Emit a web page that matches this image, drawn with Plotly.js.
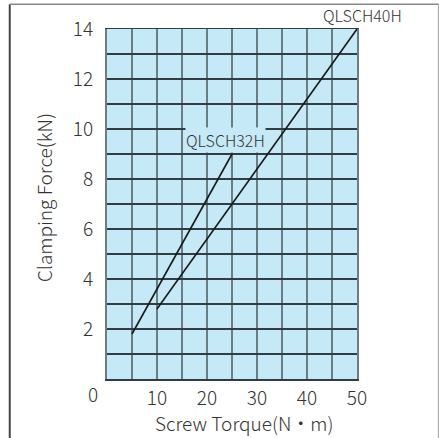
<!DOCTYPE html>
<html>
<head>
<meta charset="utf-8">
<script src="https://cdn.plot.ly/plotly-3.0.1.min.js"></script>
<style>
html,body{margin:0;padding:0;background:#fff;}
#chart{width:439px;height:438px;}
</style>
</head>
<body>
<div id="chart"></div>
<script>
// Data
const seriesNames = ["QLSCH32H", "QLSCH40H"];
const torque32 = [5, 25];
const force32 = [1.8, 9];
const torque40 = [10, 50];
const force40 = [2.8, 14];
const xTickVals = [0, 5, 10, 15, 20, 25, 30, 35, 40, 45, 50];
const xTickText = ["", "", "10", "", "20", "", "30", "", "40", "", "50"];
const yTickVals = [0, 1, 2, 3, 4, 5, 6, 7, 8, 9, 10, 11, 12, 13, 14];
const yTickText = ["", "", "2", "", "4", "", "6", "", "8", "", "10", "", "12", "", "14"];
const originLabel = "0";
const xTitle = "Screw Torque(N・m)";
const yTitle = "Clamping Force(kN)";

const FONT = "'Noto Sans CJK JP', 'Noto Sans', sans-serif";
const TXT = "#333";
const FS = 19;
const LFS = 16;

const traces = [
  {x: torque32, y: force32, mode: "lines", name: seriesNames[0],
   line: {color: "#1a1a1a", width: 1.6}, hoverinfo: "skip"},
  {x: torque40, y: force40, mode: "lines", name: seriesNames[1],
   line: {color: "#1a1a1a", width: 1.6}, hoverinfo: "skip"}
];

const layout = {
  width: 439, height: 438,
  margin: {l: 107, r: 82, t: 29, b: 59},
  paper_bgcolor: "#fff",
  plot_bgcolor: "#c6e9f8",
  showlegend: false,
  font: {family: FONT, color: TXT, size: FS, weight: 300},
  xaxis: {
    range: [0, 50], fixedrange: true,
    tickmode: "array", tickvals: xTickVals, ticktext: xTickText,
    showgrid: true, gridcolor: "#687d86", gridwidth: 2,
    zeroline: false,
    showline: true, linecolor: "#333c40", linewidth: 1.5, mirror: true,
    ticks: "outside", ticklen: 2, tickcolor: "rgba(0,0,0,0)",
    tickfont: {family: FONT, size: FS, color: TXT, weight: 300}
  },
  yaxis: {
    range: [0, 14], fixedrange: true,
    tickmode: "array", tickvals: yTickVals, ticktext: yTickText,
    showgrid: true, gridcolor: "#333c40", gridwidth: 1.5,
    zeroline: false,
    showline: true, linecolor: "#687d86", linewidth: 2, mirror: true,
    ticks: "outside", ticklen: 8, tickcolor: "rgba(0,0,0,0)",
    tickfont: {family: FONT, size: FS, color: TXT, weight: 300}
  },
  annotations: [
    {xref: "paper", yref: "paper", x: 0.55, y: -0.124, text: xTitle,
     xanchor: "center", yanchor: "middle", showarrow: false,
     font: {family: FONT, size: FS, color: TXT, weight: 300}},
    {xref: "paper", yref: "paper", x: -0.256, y: 0.517, text: yTitle, textangle: -90,
     xanchor: "center", yanchor: "middle", showarrow: false,
     font: {family: FONT, size: FS, color: TXT, weight: 300}},
    {xref: "paper", yref: "paper", x: -0.056, y: -0.042, text: originLabel,
     xanchor: "center", yanchor: "middle",
     showarrow: false, font: {family: FONT, size: FS, color: TXT, weight: 300}},
    {xref: "x", yref: "y", x: torque32[1], y: force32[1], text: seriesNames[0],
     xanchor: "center", yanchor: "bottom", yshift: 1, xshift: -7, showarrow: false,
     bgcolor: "#c6e9f8", borderpad: 0,
     font: {family: FONT, size: LFS, color: TXT, weight: 300}},
    {xref: "x", yref: "y", x: torque40[1], y: force40[1], text: seriesNames[1],
     xanchor: "center", yanchor: "bottom", yshift: 0, xshift: 5, showarrow: false,
     font: {family: FONT, size: LFS, color: TXT, weight: 300}}
  ],
  shapes: [
    {type: "line", xref: "paper", yref: "paper", x0: -0.389, x1: -0.389, y0: 1.071, y1: -0.2,
     line: {color: "#444", width: 2}},
    {type: "line", xref: "paper", yref: "paper", x0: -0.389, x1: 1.326, y0: 1.071, y1: 1.071,
     line: {color: "#888", width: 1.5}},
    {type: "line", xref: "paper", yref: "paper", x0: 1.326, x1: 1.326, y0: 1.071, y1: -0.2,
     line: {color: "#aaa", width: 1.2}}
  ]
};

Plotly.newPlot("chart", traces, layout, {staticPlot: true, displayModeBar: false});
</script>
</body>
</html>
